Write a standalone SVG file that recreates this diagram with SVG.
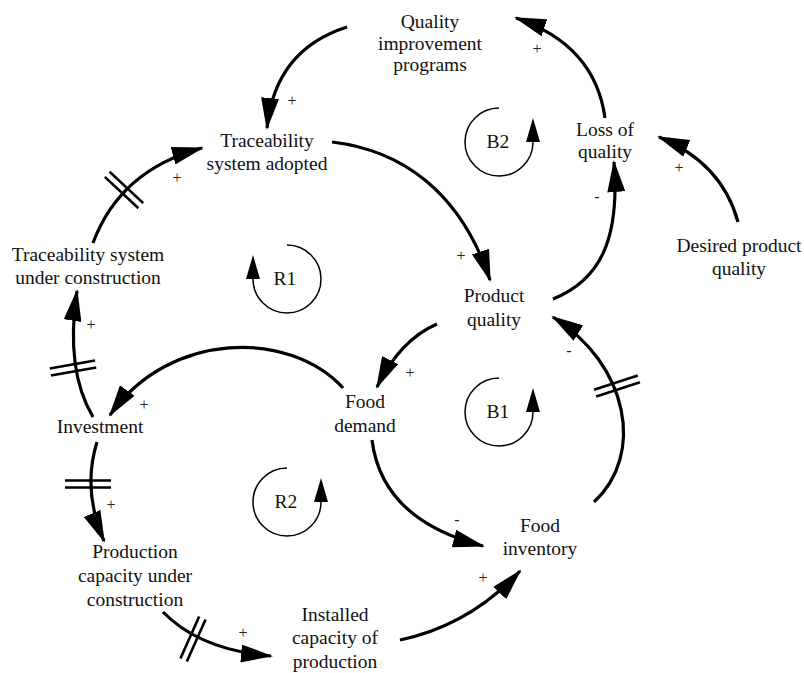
<svg xmlns="http://www.w3.org/2000/svg" xmlns:xlink="http://www.w3.org/1999/xlink" width="804" height="673" viewBox="0 0 804 673">
  <style>
    .lbl { font-family: "Liberation Serif", "Times New Roman", serif; font-size: 19.5px; fill: #111; text-anchor: middle; }
    .sign { font-family: "Liberation Serif", "Times New Roman", serif; font-size: 16px; fill: #222; text-anchor: middle; }
    .link { fill: none; stroke: #000; stroke-width: 3.2; marker-end: url(#arrow); }
    .loop { fill: none; stroke: #000; stroke-width: 1.5; marker-end: url(#loopArrow); }
    .delay line { stroke: #000; stroke-width: 2.6; }
  </style>
  <defs>
    <marker id="arrow" markerUnits="userSpaceOnUse" markerWidth="32" markerHeight="18" refX="30" refY="9" orient="auto">
      <path d="M0,0 L32,9 L0,18 Z" fill="#000"/>
    </marker>
    <marker id="loopArrow" markerUnits="userSpaceOnUse" markerWidth="24" markerHeight="14" refX="0" refY="7" orient="auto">
      <path d="M0,0 L24,7 L0,14 Z" fill="#000"/>
    </marker>
    <g id="delay" class="delay">
      <line x1="-23" y1="-3.5" x2="23" y2="-3.5"/>
      <line x1="-23" y1="3.5" x2="23" y2="3.5"/>
    </g>
  </defs>

  <g id="connectors">
    <path class="link" d="M347,27 Q275,50 267,128"/>
    <path class="link" d="M605,118 Q595,45 516,18"/>
    <path class="link" d="M332,142 C400,150 460,190 490,280"/>
    <path class="link" d="M553,299 C600,280 620,240 614,162"/>
    <path class="link" d="M738,222 Q722,163 659,137"/>
    <path class="link" d="M437,324 Q400,340 377,387"/>
    <path class="link" d="M343,388 C290,330 170,330 110,415"/>
    <path class="link" d="M93,417 Q65,370 77,291"/>
    <path class="link" d="M93,243 Q120,170 202,148"/>
    <path class="link" d="M97,442 Q82,490 104,541"/>
    <path class="link" d="M163,612 Q200,650 271,656"/>
    <path class="link" d="M400,640 Q470,625 520,571"/>
    <path class="link" d="M372,440 Q382,520 483,546"/>
    <path class="link" d="M594,502 C645,455 629,365 553,317"/>

    <use xlink:href="#delay" href="#delay" transform="translate(124,190) rotate(43)"/>
    <use xlink:href="#delay" href="#delay" transform="translate(73,368) rotate(-10)"/>
    <use xlink:href="#delay" href="#delay" transform="translate(88,484)"/>
    <use xlink:href="#delay" href="#delay" transform="translate(193,639) rotate(-66)"/>
    <use xlink:href="#delay" href="#delay" transform="translate(617,386) rotate(-18)"/>

    <text class="sign" x="292" y="106">+</text>
    <text class="sign" x="537" y="54">+</text>
    <text class="sign" x="177" y="183">+</text>
    <text class="sign" x="461" y="261">+</text>
    <text class="sign" x="597" y="202">-</text>
    <text class="sign" x="679" y="173">+</text>
    <text class="sign" x="91" y="330">+</text>
    <text class="sign" x="144" y="410">+</text>
    <text class="sign" x="410" y="378">+</text>
    <text class="sign" x="569" y="356">-</text>
    <text class="sign" x="111" y="510">+</text>
    <text class="sign" x="457" y="525">-</text>
    <text class="sign" x="483" y="583">+</text>
    <text class="sign" x="243" y="638">+</text>
  </g>

  <g id="loops">
    <g id="loop-B2">
      <path class="loop" d="M499,108 A34,34 0 1,0 533,142"/>
      <text class="lbl" x="498" y="148">B2</text>
    </g>
    <g id="loop-R1">
      <path class="loop" d="M287,245 A34,34 0 1,1 253,279"/>
      <text class="lbl" x="285" y="285">R1</text>
    </g>
    <g id="loop-B1">
      <path class="loop" d="M499,378 A34,34 0 1,0 533,412"/>
      <text class="lbl" x="498" y="418">B1</text>
    </g>
    <g id="loop-R2">
      <path class="loop" d="M287,468 A34,34 0 1,0 321,502"/>
      <text class="lbl" x="286" y="508">R2</text>
    </g>
  </g>

  <g id="node-quality-improvement-programs">
    <text class="lbl" x="430" y="28">Quality</text>
    <text class="lbl" x="430" y="50">improvement</text>
    <text class="lbl" x="430" y="71">programs</text>
  </g>
  <g id="node-traceability-system-adopted">
    <text class="lbl" x="267" y="147">Traceability</text>
    <text class="lbl" x="267" y="170">system adopted</text>
  </g>
  <g id="node-traceability-under-construction">
    <text class="lbl" x="88" y="261">Traceability system</text>
    <text class="lbl" x="88" y="284">under construction</text>
  </g>
  <g id="node-investment">
    <text class="lbl" x="100" y="433">Investment</text>
  </g>
  <g id="node-food-demand">
    <text class="lbl" x="365" y="408">Food</text>
    <text class="lbl" x="365" y="432">demand</text>
  </g>
  <g id="node-product-quality">
    <text class="lbl" x="494" y="302">Product</text>
    <text class="lbl" x="494" y="326">quality</text>
  </g>
  <g id="node-loss-of-quality">
    <text class="lbl" x="605" y="136">Loss of</text>
    <text class="lbl" x="605" y="158">quality</text>
  </g>
  <g id="node-desired-product-quality">
    <text class="lbl" x="739" y="252">Desired product</text>
    <text class="lbl" x="739" y="275">quality</text>
  </g>
  <g id="node-food-inventory">
    <text class="lbl" x="540" y="532">Food</text>
    <text class="lbl" x="540" y="555">inventory</text>
  </g>
  <g id="node-production-capacity-under-construction">
    <text class="lbl" x="135" y="558">Production</text>
    <text class="lbl" x="135" y="582">capacity under</text>
    <text class="lbl" x="135" y="606">construction</text>
  </g>
  <g id="node-installed-capacity">
    <text class="lbl" x="335" y="621">Installed</text>
    <text class="lbl" x="335" y="644">capacity of</text>
    <text class="lbl" x="335" y="668">production</text>
  </g>
</svg>
